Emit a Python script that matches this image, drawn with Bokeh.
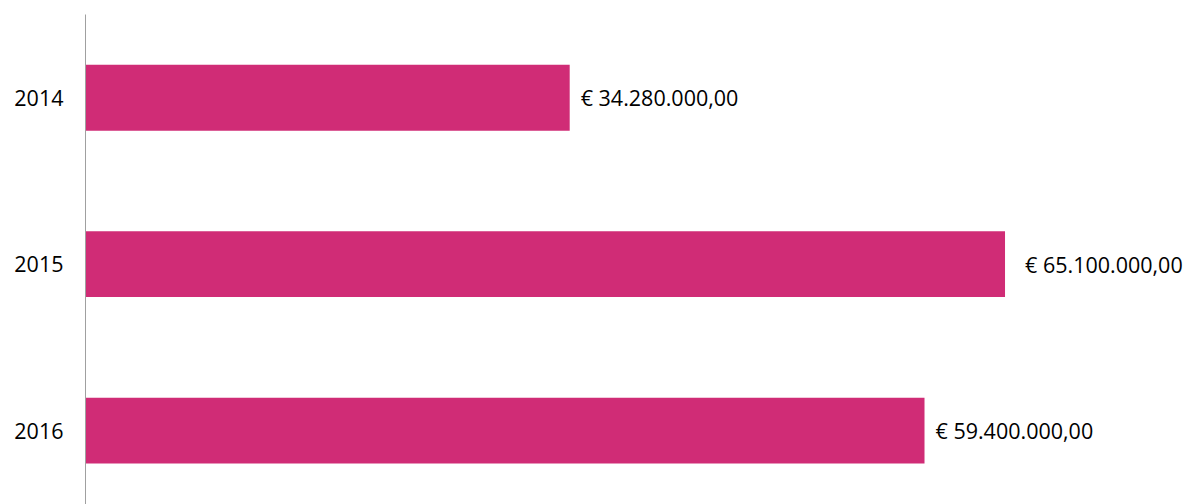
from bokeh.plotting import figure
from bokeh.models import ColumnDataSource, Range1d, FixedTicker
from bokeh.core.properties import value
from bokeh.embed import file_html
from bokeh.resources import INLINE

years = ["2014", "2015", "2016"]
amounts = [34280000, 65100000, 59400000]


def eur(v):
    s = "{:,.2f}".format(v).replace(",", "X").replace(".", ",").replace("X", ".")
    return "€ " + s


labels = [eur(v) for v in amounts]
positions = [i + 0.5 for i in range(len(years))]
label_offsets = [11, 20, 11]

src = ColumnDataSource(dict(y=positions, amount=amounts, label=labels, off=label_offsets))

p = figure(width=1188, height=504, output_backend="svg", toolbar_location=None,
           x_range=Range1d(0, 78.09e6), y_range=Range1d(start=2.944, end=0),
           min_border_left=85, min_border_top=14, min_border_bottom=0, min_border_right=0)
p.outline_line_color = None
p.grid.visible = False
p.xaxis.visible = False

p.hbar(y="y", left=0, right="amount", height=0.396, source=src,
       fill_color="#D02C76", line_color=None)

p.text(x="amount", y="y", text="label", source=src, x_offset="off",
       text_font=value("Open Sans"), text_font_size="21.5px",
       text_baseline="middle", text_align="left", text_color="#000000")

ya = p.yaxis[0]
ya.ticker = FixedTicker(ticks=positions)
ya.major_label_overrides = {pos: yr for pos, yr in zip(positions, years)}
ya.major_tick_out = 0
ya.major_tick_in = 0
ya.minor_tick_out = 0
ya.minor_tick_in = 0
ya.major_label_standoff = 22
ya.major_label_text_font = "Open Sans"
ya.major_label_text_font_size = "21.5px"
ya.major_label_text_color = "#000000"
ya.axis_line_color = "#A0A0A0"
ya.axis_line_width = 1

open("out.html", "w").write(file_html(p, INLINE))
